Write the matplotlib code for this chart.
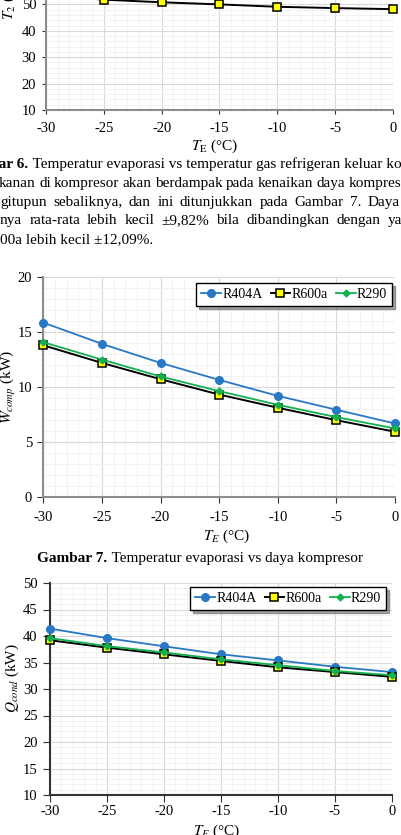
import matplotlib
matplotlib.use('Agg')
import matplotlib.pyplot as plt
from matplotlib.ticker import MultipleLocator

plt.rcParams['font.family'] = ['Liberation Serif', 'DejaVu Serif']
plt.rcParams['mathtext.fontset'] = 'stix'
plt.rcParams['axes.unicode_minus'] = False

# ---------------- data ----------------
te = [-30, -25, -20, -15, -10, -5, 0]
series_names = ['R404A', 'R600a', 'R290']

t2_r600a = [53.5, 51.8, 50.8, 50.0, 49.1, 48.6, 48.2]

wcomp_r404a = [15.86, 13.93, 12.2, 10.66, 9.21, 7.95, 6.7]
wcomp_r600a = [13.8, 12.2, 10.72, 9.33, 8.13, 7.0, 5.95]
wcomp_r290 = [14.08, 12.5, 10.97, 9.64, 8.4, 7.28, 6.25]

qcond_r404a = [41.4, 39.6, 38.06, 36.55, 35.4, 34.2, 33.2]
qcond_r600a = [39.2, 37.8, 36.55, 35.3, 34.1, 33.2, 32.3]
qcond_r290 = [39.6, 38.1, 36.9, 35.6, 34.5, 33.4, 32.6]

x_ticks = [-30, -25, -20, -15, -10, -5, 0]

para_lines = [
    "kanan di kompresor akan berdampak pada kenaikan daya kompres",
    "gitupun sebaliknya, dan ini ditunjukkan pada Gambar 7. Daya",
    "nya rata-rata lebih kecil \u00b19,82% bila dibandingkan dengan ya",
    "00a lebih kecil \u00b112,09%.",
]

# ---------------- figure ----------------
W, H = 401, 835
fig = plt.figure(figsize=(W / 100, H / 100), dpi=100)
fig.patch.set_facecolor('white')
r = fig.canvas.get_renderer()


def fy(y):
    return 1 - y / H


def make_axes(left, right, top, bottom):
    return fig.add_axes([left / W, 1 - bottom / H, (right - left) / W, (bottom - top) / H])


blue = '#2878c6'
green = '#12b04e'
styles = {
    'R404A': dict(color=blue, marker='o', ms=5.5, mfc=blue, mec=blue, lw=1.3),
    'R600a': dict(color='black', marker='s', ms=5.5, mfc='#ffff00', mec='black', mew=1.1, lw=1.4),
    'R290': dict(color=green, marker='D', ms=3.5, mfc=green, mec=green, lw=1.3),
}

TICK_FS = 10.5


def style_axes(ax, ylim, ymajor, yminor, spine_col, tick_len, xpad=6):
    ax.set_xlim(-30, 0)
    ax.set_ylim(*ylim)
    ax.set_xticks(x_ticks)
    ax.yaxis.set_major_locator(MultipleLocator(ymajor))
    ax.yaxis.set_minor_locator(MultipleLocator(yminor))
    ax.xaxis.set_minor_locator(MultipleLocator(1))
    ax.grid(which='major', color='#d9d9d9', lw=0.8)
    ax.grid(which='minor', color='#f0f0f0', lw=0.6)
    ax.set_axisbelow(True)
    for s in ['top', 'right']:
        ax.spines[s].set_visible(False)
    ax.spines['left'].set_color(spine_col)
    ax.spines['left'].set_linewidth(1.5)
    ax.spines['bottom'].set_color(spine_col)
    ax.spines['bottom'].set_linewidth(1.5)
    ax.tick_params(which='major', direction='out', length=tick_len, width=0.8,
                   color='#333333', labelsize=TICK_FS, pad=4)
    ax.tick_params(which='minor', length=0)
    ax.tick_params(axis='x', pad=xpad)


# ---- top (Fig 6, cropped) ----
ax1 = make_axes(46, 393, 110 - 50 * 2.64, 110)
ax1.plot(te, t2_r600a, **styles['R600a'], clip_on=False)
style_axes(ax1, (10, 60), 10, 2, '#8c8c8c', 3)
fig.text(215 / W, fy(146), r'$T_{\rm E}$ (°C)', ha='center', va='center', fontsize=11)
fig.text(9 / W, fy(20), r'$T_2$ (°C)', rotation=90, ha='center', va='bottom', fontsize=11)

# ---- middle (Fig 7) ----
ax2 = make_axes(43.3, 395, 277, 497.3)
ax2.plot(te, wcomp_r404a, label=series_names[0], **styles['R404A'], clip_on=False, zorder=3)
ax2.plot(te, wcomp_r600a, label=series_names[1], **styles['R600a'], clip_on=False, zorder=3)
ax2.plot(te, wcomp_r290, label=series_names[2], **styles['R290'], clip_on=False, zorder=3)
style_axes(ax2, (0, 20), 5, 1, '#8c8c8c', 4)
fig.text(227 / W, fy(536), r'$T_E$ (°C)', ha='center', va='center', fontsize=11)
fig.text(9 / W, fy(387), r'$W_{comp}$ (kW)', rotation=90, ha='center', va='center', fontsize=11)

# ---- bottom (Fig 8, cropped) ----
ax3 = make_axes(50, 391.7, 583, 795)
ax3.plot(te, qcond_r404a, label=series_names[0], **styles['R404A'], clip_on=False, zorder=3)
ax3.plot(te, qcond_r600a, label=series_names[1], **styles['R600a'], clip_on=False, zorder=3)
ax3.plot(te, qcond_r290, label=series_names[2], **styles['R290'], clip_on=False, zorder=3)
style_axes(ax3, (10, 50), 5, 1, '#333333', 5, xpad=2)
fig.text(217 / W, fy(831), r'$T_E$ (°C)', ha='center', va='center', fontsize=11)
fig.text(12 / W, fy(678), r'$Q_{cond}$ (kW)', rotation=90, ha='center', va='center', fontsize=11)

# legends
for ax, (xr, yt) in [(ax2, (392, 283)), (ax3, (386, 587))]:
    leg = ax.legend(ncol=3, loc='upper right', bbox_to_anchor=(xr / W, fy(yt)),
                    bbox_transform=fig.transFigure, fontsize=10, frameon=True,
                    fancybox=False, shadow=True, edgecolor='black', borderaxespad=0,
                    handlelength=1.4, handletextpad=0.1, columnspacing=0.6,
                    borderpad=0.35)
    leg.get_frame().set_linewidth(1.0)

# ---------------- text ----------------
BODY_FS = 11.0


def place_run(parts, x0, y_base):
    """parts: list of (text, weight). returns end x."""
    x = x0
    for txt, wt in parts:
        t = fig.text(x / W, fy(y_base), txt, fontsize=BODY_FS, fontweight=wt,
                     ha='left', va='baseline')
        x += t.get_window_extent(r).width
    return x


def justify(line, y_base, x0, x1):
    words = line.split(' ')
    texts = [fig.text(0, fy(y_base), w, fontsize=BODY_FS, ha='left', va='baseline')
             for w in words]
    widths = [t.get_window_extent(r).width for t in texts]
    gap = (x1 - x0 - sum(widths)) / (len(words) - 1)
    x = x0
    for t, w in zip(texts, widths):
        t.set_x(x / W)
        x += w + gap


# caption 6 (cropped at left)
tb = fig.text(0, fy(168), 'Gambar 6.', fontsize=BODY_FS, fontweight='bold',
              ha='right', va='baseline')
tb.set_x(28 / W)
place_run([(' Temperatur evaporasi vs temperatur gas refrigeran keluar kompresor', 'normal')], 29, 168)

# paragraph
justify(para_lines[0], 187, -1, 401)
justify(para_lines[1], 206, 0, 400)
justify(para_lines[2], 224, 0, 402)
place_run([(para_lines[3], 'normal')], 0, 243)

# caption 7 centred
tmp1 = fig.text(0, 0, 'Gambar 7.', fontsize=BODY_FS, fontweight='bold')
tmp2 = fig.text(0, 0, ' Temperatur evaporasi vs daya kompresor', fontsize=BODY_FS)
wtot = tmp1.get_window_extent(r).width + tmp2.get_window_extent(r).width
tmp1.remove(); tmp2.remove()
place_run([('Gambar 7.', 'bold'), (' Temperatur evaporasi vs daya kompresor', 'normal')],
          200 - wtot / 2, 562)

fig.savefig('out.png', dpi=100, facecolor='white')
